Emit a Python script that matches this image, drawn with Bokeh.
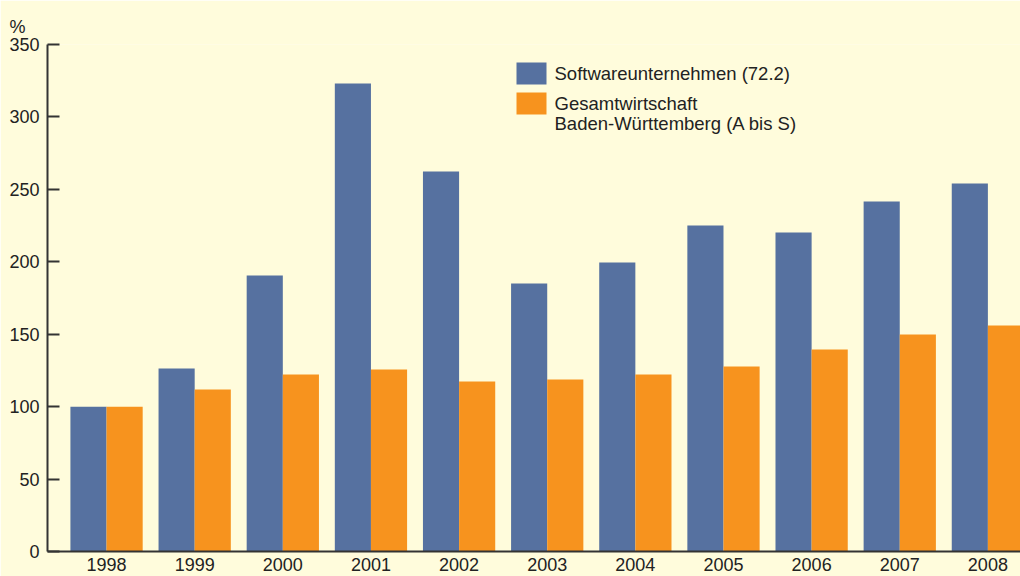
from bokeh.plotting import figure
from bokeh.models import ColumnDataSource, FixedTicker, Range1d, Label, BoxAnnotation
from bokeh.transform import dodge
from bokeh.embed import file_html
from bokeh.resources import INLINE

years = ["1998", "1999", "2000", "2001", "2002", "2003", "2004", "2005", "2006", "2007", "2008"]
software = [100, 126.3, 190.5, 323, 262.3, 185, 199.5, 225, 220.2, 241.6, 254]
gesamt = [100, 111.8, 122.2, 125.6, 117.4, 118.7, 122.2, 127.7, 139.4, 149.8, 156]
y_ticks = [0, 50, 100, 150, 200, 250, 300, 350]

name_software = "Softwareunternehmen (72.2)"
name_gesamt_1 = "Gesamtwirtschaft"
name_gesamt_2 = "Baden-Württemberg (A bis S)"

BG = "#fffcdc"
BLUE = "#5671a0"
ORANGE = "#f7931e"
TXT = "#222222"
FONT = "Liberation Sans"

src = ColumnDataSource(dict(idx=list(range(len(years))), software=software, gesamt=gesamt))

p = figure(width=1020, height=576, output_backend="svg", toolbar_location=None,
           x_range=Range1d(-0.67, 10.37), y_range=Range1d(0, 350),
           min_border_left=47, min_border_right=0, min_border_top=44, min_border_bottom=25)

p.background_fill_color = BG
p.border_fill_color = BG
p.outline_line_color = None
p.grid.visible = False

p.vbar(x=dodge("idx", -0.205), top="software", width=0.41, source=src,
       fill_color=BLUE, line_color=None)
p.vbar(x=dodge("idx", 0.205), top="gesamt", width=0.41, source=src,
       fill_color=ORANGE, line_color=None)

# axes
p.yaxis.ticker = FixedTicker(ticks=y_ticks)
p.yaxis.major_tick_in = 12
p.yaxis.major_tick_out = 0
p.yaxis.minor_tick_line_color = None
p.yaxis.major_label_standoff = 8
p.xaxis.ticker = FixedTicker(ticks=list(range(len(years))))
p.xaxis.major_label_overrides = {i: y for i, y in enumerate(years)}
p.xaxis.major_tick_in = 0
p.xaxis.major_tick_out = 0
p.xaxis.minor_tick_line_color = None
p.xaxis.major_label_standoff = 6
for ax in (p.xaxis, p.yaxis):
    ax.axis_line_color = "#333333"
    ax.axis_line_width = 2
    ax.major_tick_line_color = "#333333"
    ax.major_tick_line_width = 2
    ax.major_label_text_font = FONT
    ax.major_label_text_font_size = "18px"
    ax.major_label_text_color = TXT

# "%" unit label
p.title.text = "%"
p.title.align = "left"
p.title.offset = -38
p.title.standoff = 15
p.title.text_font = FONT
p.title.text_font_size = "18px"
p.title.text_font_style = "normal"
p.title.text_color = TXT

# legend (screen units relative to frame)
p.add_layout(BoxAnnotation(left=469, right=499, top=489, bottom=467,
                           left_units="screen", right_units="screen",
                           top_units="screen", bottom_units="screen",
                           fill_color=BLUE, fill_alpha=1, line_color=None))
p.add_layout(BoxAnnotation(left=469, right=499, top=459, bottom=437,
                           left_units="screen", right_units="screen",
                           top_units="screen", bottom_units="screen",
                           fill_color=ORANGE, fill_alpha=1, line_color=None))
for txt, yy in ((name_software, 478), (name_gesamt_1, 448), (name_gesamt_2, 428)):
    p.add_layout(Label(x=507, y=yy, x_units="screen", y_units="screen", text=txt,
                       text_font=FONT, text_font_size="18.5px", text_color=TXT,
                       text_baseline="middle", text_align="left"))

open("out.html", "w").write(file_html(p, INLINE))
